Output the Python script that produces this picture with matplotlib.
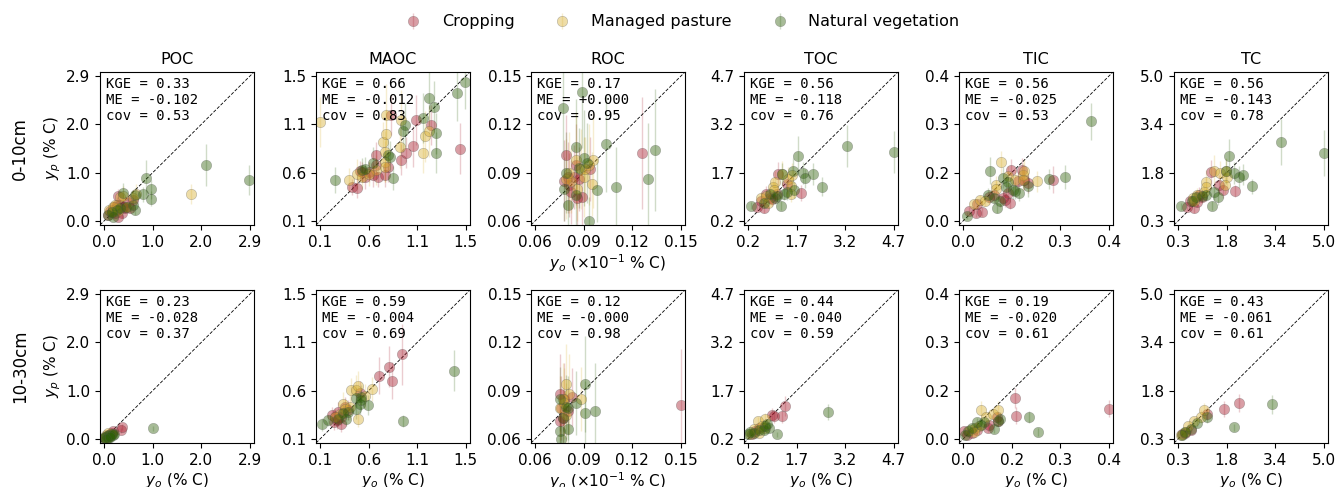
import numpy as np
import matplotlib
matplotlib.use("Agg")
import matplotlib.pyplot as plt

# ---- data: (x observed, y predicted, y error) per land use and panel ----
variables = ["POC", "MAOC", "ROC", "TOC", "TIC", "TC"]
depths = ["0-10cm", "10-30cm"]
groups = ["Cropping", "Managed pasture", "Natural vegetation"]
colors = ["#a5192a", "#d7ae2d", "#2d5f08"]

tick_lo = [0.03, 0.12, 0.06, 0.2, 0.008, 0.28]
tick_hi = [2.94, 1.54, 0.15, 4.7, 0.434, 4.99]
tick_labels = [
    ["0.0", "1.0", "2.0", "2.9"],
    ["0.1", "0.6", "1.1", "1.5"],
    ["0.06", "0.09", "0.12", "0.15"],
    ["0.2", "1.7", "3.2", "4.7"],
    ["0.0", "0.2", "0.3", "0.4"],
    ["0.3", "1.8", "3.4", "5.0"],
]

stats_0_10 = [("0.33", "-0.102", "0.53"), ("0.66", "-0.012", "0.83"), ("0.17", "+0.000", "0.95"),
              ("0.56", "-0.118", "0.76"), ("0.56", "-0.025", "0.53"), ("0.56", "-0.143", "0.78")]
stats_10_30 = [("0.23", "-0.028", "0.37"), ("0.59", "-0.004", "0.69"), ("0.12", "-0.000", "0.98"),
               ("0.44", "-0.040", "0.59"), ("0.19", "-0.020", "0.61"), ("0.43", "-0.061", "0.61")]

# POC 0-10
poc_a_crop = ([0.10, 0.14, 0.18, 0.21, 0.24, 0.28, 0.31, 0.34, 0.38, 0.40, 0.44, 0.48, 0.54, 0.60, 0.30, 0.22],
              [0.15, 0.22, 0.20, 0.25, 0.18, 0.35, 0.52, 0.35, 0.18, 0.30, 0.28, 0.40, 0.28, 0.45, 0.10, 0.30],
              [0.08, 0.10, 0.10, 0.10, 0.08, 0.15, 0.15, 0.10, 0.10, 0.12, 0.10, 0.12, 0.10, 0.12, 0.06, 0.10])
poc_a_past = ([0.12, 0.18, 0.21, 0.28, 0.35, 0.41, 0.48, 0.60, 0.67, 1.77, 0.30, 0.25],
              [0.25, 0.20, 0.31, 0.28, 0.50, 0.52, 0.30, 0.48, 0.56, 0.57, 0.22, 0.35],
              [0.10, 0.10, 0.12, 0.10, 0.15, 0.20, 0.10, 0.15, 0.20, 0.20, 0.08, 0.12])
poc_a_nat = ([0.11, 0.21, 0.28, 0.34, 0.41, 0.47, 0.64, 0.64, 0.81, 0.87, 0.97, 0.97, 2.07, 2.92, 0.60, 0.18],
             [0.15, 0.11, 0.24, 0.28, 0.59, 0.31, 0.54, 0.24, 0.56, 0.90, 0.66, 0.47, 1.15, 0.85, 0.35, 0.20],
             [0.06, 0.06, 0.10, 0.10, 0.20, 0.10, 0.15, 0.10, 0.15, 0.35, 0.20, 0.15, 0.42, 0.30, 0.15, 0.06])
# POC 10-30
poc_b_crop = ([0.05, 0.08, 0.12, 0.15, 0.18, 0.20, 0.36, 0.39, 0.10],
              [0.05, 0.08, 0.10, 0.12, 0.15, 0.18, 0.20, 0.27, 0.06],
              [0.03, 0.03, 0.04, 0.04, 0.05, 0.05, 0.05, 0.06, 0.03])
poc_b_past = ([0.04, 0.07, 0.10, 0.13, 0.16, 0.08],
              [0.06, 0.10, 0.14, 0.10, 0.12, 0.08],
              [0.03, 0.04, 0.04, 0.03, 0.04, 0.03])
poc_b_nat = ([0.03, 0.05, 0.08, 0.10, 0.12, 0.15, 0.18, 0.20, 0.22, 1.01, 0.06, 0.14],
             [0.04, 0.06, 0.08, 0.05, 0.10, 0.09, 0.12, 0.11, 0.13, 0.24, 0.03, 0.07],
             [0.03, 0.03, 0.03, 0.03, 0.04, 0.04, 0.04, 0.04, 0.04, 0.05, 0.02, 0.03])

# MAOC 0-10
maoc_a_crop = ([0.43, 0.48, 0.51, 0.56, 0.60, 0.66, 0.68, 0.66, 0.75, 0.78, 0.81, 0.91, 0.96, 1.03, 1.05, 1.20, 1.48, 0.53, 0.63],
               [0.45, 0.44, 0.61, 0.55, 0.60, 0.67, 0.55, 0.77, 0.57, 0.65, 1.16, 0.72, 0.79, 0.85, 1.11, 1.06, 0.83, 0.60, 0.57],
               [0.08, 0.10, 0.10, 0.12, 0.10, 0.15, 0.10, 0.12, 0.12, 0.15, 0.20, 0.15, 0.15, 0.20, 0.25, 0.20, 0.25, 0.10, 0.12])
maoc_a_past = ([0.12, 0.40, 0.48, 0.53, 0.66, 0.73, 0.75, 0.76, 0.76, 0.75, 0.75, 0.90, 0.91, 1.12, 1.14, 1.18, 0.60],
               [1.09, 0.52, 0.58, 0.55, 0.62, 0.89, 0.80, 0.97, 1.16, 0.70, 0.65, 0.84, 1.11, 0.79, 0.95, 1.00, 0.58],
               [0.25, 0.12, 0.15, 0.12, 0.15, 0.20, 0.20, 0.25, 0.30, 0.20, 0.15, 0.20, 0.30, 0.20, 0.25, 0.25, 0.12])
maoc_a_nat = ([0.26, 0.53, 0.63, 0.78, 0.80, 0.83, 0.93, 0.95, 1.12, 1.18, 1.23, 1.25, 1.25, 1.46, 1.53, 0.56],
              [0.52, 0.62, 0.69, 0.77, 0.75, 0.54, 1.00, 1.06, 1.13, 1.33, 1.24, 0.98, 0.79, 1.38, 1.48, 0.63],
              [0.13, 0.12, 0.15, 0.15, 0.15, 0.12, 0.20, 0.22, 0.25, 0.28, 0.25, 0.20, 0.20, 0.28, 0.26, 0.12])
# MAOC 10-30
maoc_b_crop = ([0.92, 0.79, 0.69, 0.82, 0.51, 0.26, 0.29, 0.23, 0.32, 0.36, 0.25, 0.32, 0.28, 0.39],
               [0.95, 0.83, 0.74, 0.69, 0.57, 0.33, 0.38, 0.35, 0.33, 0.43, 0.28, 0.26, 0.30, 0.40],
               [0.30, 0.20, 0.18, 0.18, 0.12, 0.08, 0.10, 0.08, 0.08, 0.10, 0.07, 0.07, 0.08, 0.10])
maoc_b_past = ([0.42, 0.47, 0.49, 0.62, 0.56, 0.34, 0.36, 0.31, 0.49, 0.41, 0.26],
               [0.60, 0.60, 0.64, 0.61, 0.54, 0.46, 0.41, 0.36, 0.31, 0.43, 0.33],
               [0.12, 0.15, 0.15, 0.12, 0.12, 0.12, 0.10, 0.10, 0.08, 0.12, 0.08])
maoc_b_nat = ([0.14, 0.19, 0.37, 0.39, 0.47, 0.47, 0.51, 0.52, 0.59, 0.52, 0.93, 1.43, 0.34, 0.29],
              [0.26, 0.30, 0.31, 0.38, 0.52, 0.41, 0.46, 0.53, 0.45, 0.50, 0.29, 0.79, 0.37, 0.31],
              [0.06, 0.06, 0.07, 0.08, 0.10, 0.10, 0.10, 0.12, 0.10, 0.10, 0.06, 0.20, 0.08, 0.07])

# ROC 0-10
roc_a_crop = ([0.079, 0.081, 0.084, 0.085, 0.087, 0.089, 0.080, 0.082, 0.094, 0.126, 0.078, 0.086],
              [0.101, 0.082, 0.087, 0.095, 0.086, 0.075, 0.087, 0.078, 0.092, 0.102, 0.085, 0.074],
              [0.025, 0.020, 0.020, 0.025, 0.020, 0.018, 0.022, 0.020, 0.020, 0.035, 0.025, 0.018])
roc_a_past = ([0.079, 0.082, 0.085, 0.088, 0.090, 0.095, 0.096, 0.093, 0.091, 0.086, 0.081],
              [0.086, 0.085, 0.098, 0.092, 0.087, 0.083, 0.098, 0.095, 0.092, 0.080, 0.090],
              [0.025, 0.020, 0.030, 0.025, 0.025, 0.020, 0.030, 0.025, 0.020, 0.020, 0.025])
roc_a_nat = ([0.077, 0.089, 0.078, 0.079, 0.085, 0.090, 0.087, 0.080, 0.085, 0.093, 0.098, 0.104, 0.110, 0.130, 0.134, 0.092],
             [0.130, 0.140, 0.080, 0.090, 0.106, 0.099, 0.093, 0.070, 0.076, 0.060, 0.079, 0.108, 0.081, 0.086, 0.104, 0.096],
             [0.030, 0.035, 0.020, 0.025, 0.030, 0.030, 0.025, 0.018, 0.020, 0.015, 0.020, 0.030, 0.025, 0.035, 0.038, 0.025])
# ROC 10-30
roc_b_crop = ([0.075, 0.076, 0.077, 0.078, 0.083, 0.075, 0.150, 0.080],
              [0.088, 0.079, 0.073, 0.085, 0.086, 0.071, 0.081, 0.077],
              [0.025, 0.020, 0.018, 0.022, 0.018, 0.015, 0.035, 0.015])
roc_b_past = ([0.079, 0.081, 0.075, 0.088, 0.078, 0.079, 0.077],
              [0.094, 0.088, 0.079, 0.085, 0.082, 0.075, 0.085],
              [0.025, 0.025, 0.020, 0.020, 0.022, 0.020, 0.022])
roc_b_nat = ([0.091, 0.091, 0.097, 0.085, 0.080, 0.075, 0.075, 0.080, 0.076, 0.079, 0.077],
             [0.094, 0.076, 0.077, 0.082, 0.079, 0.085, 0.065, 0.066, 0.060, 0.080, 0.073],
             [0.030, 0.020, 0.030, 0.020, 0.020, 0.020, 0.012, 0.012, 0.010, 0.020, 0.015])

# TOC 0-10
toc_a_crop = ([0.47, 0.67, 0.76, 0.86, 1.13, 1.40, 1.83, 0.60, 1.08, 0.92],
              [0.63, 0.60, 1.03, 0.92, 1.67, 1.33, 1.06, 0.81, 1.03, 0.86],
              [0.12, 0.15, 0.25, 0.20, 0.35, 0.30, 0.25, 0.15, 0.25, 0.20])
toc_a_past = ([0.60, 0.76, 0.97, 1.03, 1.24, 1.43, 1.51, 1.56, 1.51, 1.00, 0.81],
              [0.90, 0.97, 1.24, 1.40, 1.67, 1.51, 1.29, 1.61, 1.03, 1.15, 0.76],
              [0.20, 0.20, 0.30, 0.35, 0.40, 0.35, 0.30, 0.40, 0.25, 0.25, 0.15])
toc_a_nat = ([0.29, 0.67, 1.03, 1.22, 1.24, 1.29, 1.40, 1.59, 1.61, 1.75, 1.88, 1.96, 2.21, 2.47, 3.24, 4.70, 0.86, 1.08],
             [0.67, 0.74, 0.92, 0.67, 1.65, 1.03, 1.08, 1.75, 1.15, 2.23, 1.69, 1.52, 1.65, 1.26, 2.52, 2.33, 1.03, 0.97],
             [0.12, 0.15, 0.20, 0.15, 0.35, 0.20, 0.25, 0.40, 0.25, 0.60, 0.35, 0.30, 0.35, 0.30, 0.65, 0.65, 0.20, 0.20])
# TOC 10-30
toc_b_crop = ([1.35, 1.24, 0.94, 1.00, 0.31, 0.41, 0.52],
              [1.22, 0.90, 0.95, 0.90, 0.33, 0.44, 0.54],
              [0.30, 0.20, 0.20, 0.20, 0.08, 0.10, 0.10])
toc_b_past = ([0.49, 0.73, 0.73, 0.36, 0.52, 0.25, 0.63],
              [0.74, 0.81, 0.54, 0.49, 0.38, 0.33, 0.60],
              [0.15, 0.20, 0.12, 0.10, 0.10, 0.08, 0.12])
toc_b_nat = ([2.68, 1.08, 0.84, 0.73, 0.68, 0.20, 0.36, 0.52, 0.25, 0.79],
             [1.03, 0.33, 0.54, 0.60, 0.46, 0.33, 0.38, 0.46, 0.41, 0.65],
             [0.25, 0.08, 0.12, 0.12, 0.10, 0.06, 0.08, 0.10, 0.08, 0.12])

# TIC 0-10
tic_a_crop = ([0.025, 0.045, 0.063, 0.048, 0.084, 0.099, 0.129, 0.144, 0.149, 0.167, 0.180, 0.186, 0.197, 0.270, 0.124, 0.139],
              [0.037, 0.030, 0.035, 0.058, 0.078, 0.083, 0.068, 0.061, 0.159, 0.125, 0.159, 0.129, 0.119, 0.129, 0.076, 0.091],
              [0.012, 0.010, 0.012, 0.015, 0.020, 0.020, 0.020, 0.018, 0.030, 0.030, 0.035, 0.030, 0.030, 0.040, 0.020, 0.022])
tic_a_past = ([0.038, 0.058, 0.071, 0.104, 0.104, 0.119, 0.139, 0.159, 0.182, 0.186, 0.225, 0.184],
              [0.056, 0.068, 0.066, 0.114, 0.101, 0.180, 0.139, 0.127, 0.144, 0.155, 0.124, 0.129],
              [0.012, 0.015, 0.015, 0.025, 0.025, 0.035, 0.030, 0.030, 0.035, 0.035, 0.030, 0.030])
tic_a_nat = ([0.018, 0.087, 0.079, 0.106, 0.124, 0.132, 0.139, 0.154, 0.159, 0.172, 0.197, 0.260, 0.305, 0.383, 0.099, 0.114],
             [0.023, 0.155, 0.083, 0.046, 0.135, 0.108, 0.122, 0.098, 0.096, 0.091, 0.109, 0.130, 0.137, 0.301, 0.076, 0.066],
             [0.010, 0.040, 0.020, 0.015, 0.030, 0.025, 0.030, 0.025, 0.025, 0.025, 0.030, 0.030, 0.035, 0.055, 0.020, 0.018])
# TIC 10-30
tic_b_crop = ([0.158, 0.162, 0.434, 0.079, 0.084, 0.109, 0.107, 0.010, 0.018, 0.033, 0.049],
              [0.129, 0.076, 0.096, 0.040, 0.048, 0.059, 0.073, 0.030, 0.020, 0.025, 0.035],
              [0.030, 0.025, 0.025, 0.012, 0.012, 0.015, 0.015, 0.008, 0.008, 0.010, 0.010])
tic_b_past = ([0.059, 0.074, 0.094, 0.109, 0.028, 0.043, 0.054, 0.038],
              [0.093, 0.073, 0.081, 0.093, 0.035, 0.040, 0.046, 0.028],
              [0.025, 0.015, 0.015, 0.025, 0.010, 0.010, 0.012, 0.008])
tic_b_nat = ([0.201, 0.226, 0.097, 0.114, 0.109, 0.049, 0.059, 0.023, 0.013, 0.033, 0.069],
             [0.071, 0.028, 0.038, 0.066, 0.061, 0.056, 0.049, 0.030, 0.020, 0.040, 0.056],
             [0.018, 0.012, 0.012, 0.020, 0.015, 0.012, 0.012, 0.008, 0.006, 0.010, 0.012])

# TC 0-10
tc_a_crop = ([0.56, 0.78, 0.95, 1.04, 1.34, 1.59, 1.74, 2.13, 0.67, 0.90],
             [0.73, 0.69, 1.12, 1.05, 1.87, 1.46, 1.28, 1.26, 0.92, 0.89],
             [0.15, 0.15, 0.25, 0.20, 0.40, 0.30, 0.25, 0.20, 0.15, 0.15])
tc_a_past = ([0.76, 0.90, 1.12, 1.18, 1.18, 1.44, 1.63, 1.82, 1.85, 1.80, 0.80],
             [1.01, 1.11, 1.23, 1.54, 1.37, 1.91, 1.82, 1.91, 1.70, 1.46, 0.92],
             [0.20, 0.25, 0.30, 0.40, 0.30, 0.50, 0.40, 0.40, 0.35, 0.30, 0.15])
tc_a_nat = ([0.36, 1.38, 1.44, 1.57, 1.82, 1.93, 2.07, 2.24, 2.38, 2.67, 3.62, 5.00, 0.84, 1.06, 1.18, 0.73],
            [0.75, 0.77, 1.20, 1.05, 1.89, 2.40, 1.84, 1.70, 1.78, 1.40, 2.85, 2.49, 1.05, 1.09, 1.12, 0.92],
            [0.12, 0.15, 0.25, 0.25, 0.40, 0.55, 0.35, 0.35, 0.35, 0.25, 0.75, 0.75, 0.20, 0.20, 0.20, 0.15])
# TC 10-30
tc_b_crop = ([1.75, 2.25, 1.20, 0.50, 0.70, 0.40],
             [1.25, 1.45, 1.10, 0.45, 0.55, 0.42],
             [0.25, 0.30, 0.20, 0.08, 0.10, 0.08])
tc_b_past = ([1.00, 0.80, 1.10, 0.50, 0.60, 0.35],
             [1.00, 0.85, 1.20, 0.50, 0.70, 0.40],
             [0.20, 0.15, 0.25, 0.10, 0.12, 0.08])
tc_b_nat = ([3.30, 2.10, 1.20, 0.40, 0.70, 0.90, 0.50],
            [1.40, 0.65, 1.00, 0.40, 0.60, 0.80, 0.50],
            [0.30, 0.12, 0.20, 0.08, 0.10, 0.15, 0.08])

panels = [
    [(poc_a_crop, poc_a_past, poc_a_nat), (maoc_a_crop, maoc_a_past, maoc_a_nat),
     (roc_a_crop, roc_a_past, roc_a_nat), (toc_a_crop, toc_a_past, toc_a_nat),
     (tic_a_crop, tic_a_past, tic_a_nat), (tc_a_crop, tc_a_past, tc_a_nat)],
    [(poc_b_crop, poc_b_past, poc_b_nat), (maoc_b_crop, maoc_b_past, maoc_b_nat),
     (roc_b_crop, roc_b_past, roc_b_nat), (toc_b_crop, toc_b_past, toc_b_nat),
     (tic_b_crop, tic_b_past, tic_b_nat), (tc_b_crop, tc_b_past, tc_b_nat)],
]
stats = [stats_0_10, stats_10_30]

# ---- figure ----
W, H = 1335, 487
fig = plt.figure(figsize=(W / 100, H / 100), dpi=100)
col_left = [100, 316, 531, 744, 959, 1174]
row_top = [72, 290]
aw, ah = 154, 153

handles = None
for r in range(2):
    for c in range(6):
        ax = fig.add_axes([col_left[c] / W, 1 - (row_top[r] + ah) / H, aw / W, ah / H])
        lo, hi = tick_lo[c], tick_hi[c]
        pad = 0.03 * (hi - lo)
        for g, (x, y, e) in enumerate(panels[r][c]):
            eb = ax.errorbar(x, y, yerr=e, fmt='o', color=colors[g], ms=7.5, mec='#555555', mew=0.4,
                             elinewidth=1.0, alpha=0.42, label=groups[g])
            for lc in eb.lines[2]:
                lc.set_alpha(0.22)
        ax.plot([lo - pad, hi + pad], [lo - pad, hi + pad], 'k--', lw=0.6, dashes=(4, 2))
        ax.set_xlim(lo - pad, hi + pad)
        ax.set_ylim(lo - pad, hi + pad)
        ticks = np.linspace(lo, hi, 4)
        ax.set_xticks(ticks, tick_labels[c], fontsize=11)
        ax.set_yticks(ticks, tick_labels[c], fontsize=11)
        kge, me, cov = stats[r][c]
        ax.text(0.04, 0.97, f"KGE = {kge}\nME = {me}\ncov = {cov}", transform=ax.transAxes,
                va='top', ha='left', family='DejaVu Sans Mono', fontsize=10)
        if r == 0:
            ax.set_title(variables[c], fontsize=11.5, pad=6)
        if c == 0:
            ax.set_ylabel("$y_p$ (% C)", fontsize=11, labelpad=2)
        if c == 2:
            ax.set_xlabel(r"$y_o$ ($\times$10$^{-1}$ % C)", fontsize=11, labelpad=2)
        elif r == 1:
            ax.set_xlabel("$y_o$ (% C)", fontsize=11, labelpad=2)
        if handles is None:
            handles, labels = ax.get_legend_handles_labels()

for r in range(2):
    yc = 1 - (row_top[r] + ah / 2) / H
    fig.text(20 / W, yc, depths[r], rotation=90, ha='center', va='center', fontsize=12)

fig.legend(handles, labels, loc='upper center', bbox_to_anchor=(0.508, 1.0), ncol=3,
           frameon=False, fontsize=11.5, columnspacing=2.0)

fig.savefig("out.png", dpi=100)
